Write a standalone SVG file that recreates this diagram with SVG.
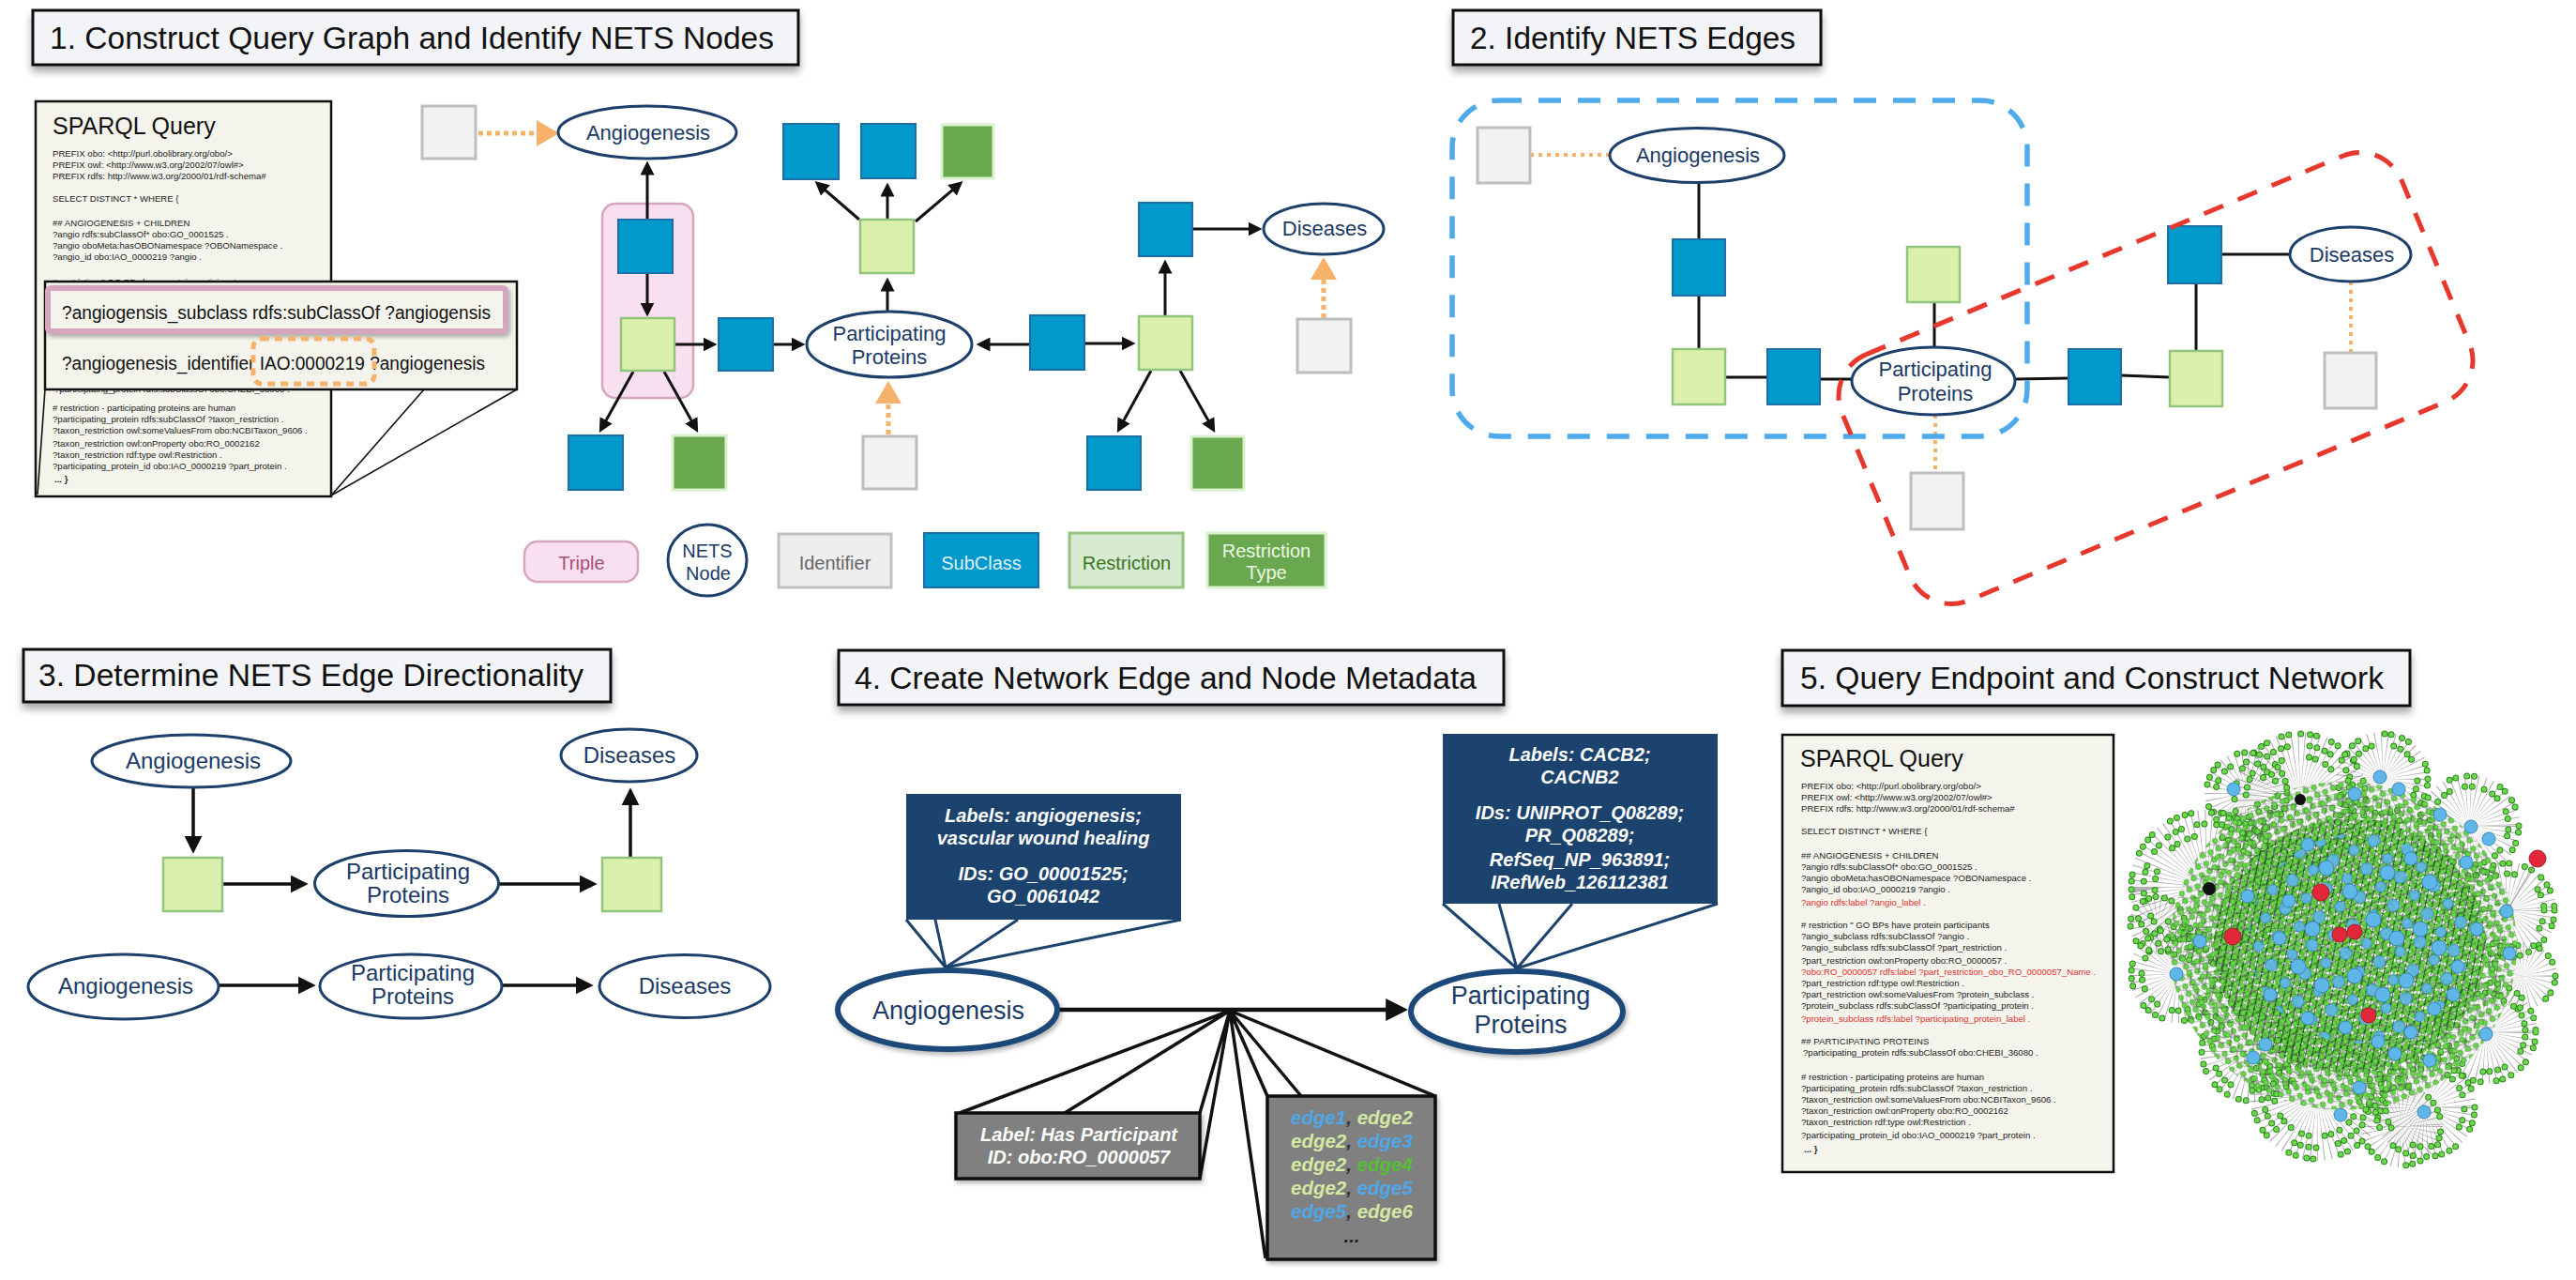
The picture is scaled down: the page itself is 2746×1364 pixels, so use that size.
<svg xmlns="http://www.w3.org/2000/svg" width="2746" height="1364" viewBox="0 0 2746 1364">
<defs>
<style>
text{font-family:"Liberation Sans",Arial,sans-serif}
.ttl{font-size:34px;fill:#111}
.tbox{fill:#f3f4f8;stroke:#111;stroke-width:3}
.ell{fill:#fff;stroke:#1d3f6c;stroke-width:3}
.et{fill:#1b3a66;font-size:22px;text-anchor:middle}
.et3{fill:#1b3a66;font-size:24px;text-anchor:middle}
.et4{fill:#1b3a66;font-size:27px;text-anchor:middle}
.sb{fill:#0099cc;stroke:#1e6ea6;stroke-width:2}
.rs{fill:#dcf0ae;stroke:#93c47d;stroke-width:2.5}
.rt{fill:#6aa84f;stroke:#dbf0cf;stroke-width:3}
.id{fill:#f2f2f2;stroke:#bebebe;stroke-width:3}
.ar{stroke:#111;stroke-width:3;fill:none;marker-end:url(#ah)}
.ar3{stroke:#111;stroke-width:3.5;fill:none;marker-end:url(#ah2)}
.ln{stroke:#111;stroke-width:3;fill:none}
.od{stroke:#f6b26b;stroke-width:5;stroke-dasharray:5 4;fill:none}
.od2{stroke:#f6b26b;stroke-width:4;stroke-dasharray:4 5;fill:none}
.code{font-size:9.6px;fill:#222}
.red{fill:#e3302c}
.sq{fill:#f4f4ec;stroke:#111;stroke-width:2.5}
.lg{font-size:20px;text-anchor:middle}
.wb{fill:#fff;font-size:20px;font-weight:bold;font-style:italic;text-anchor:middle}
.eb{font-size:20.5px;font-weight:bold;font-style:italic}
.cb{fill:#4fa7e8}.cg{fill:#d3e9a3}.cG{fill:#57bd35}.cc{fill:#333}
.nv{fill:#1c426e}
.pl{stroke:#1c426e;stroke-width:3;fill:none}
.jl{stroke:#111;stroke-width:3.5;fill:none}
.spk{fill:none;stroke:#6b6b6b;stroke-opacity:0.55;stroke-dasharray:0.6 3.4}
.k{fill:none;stroke:#2d861e;stroke-width:7;stroke-linecap:round}
.g{fill:none;stroke:#6bd94b;stroke-width:5;stroke-linecap:round}
.d1{stroke-dasharray:0 8 0 9 0 7 0 24}
.d2{stroke-dasharray:0 10 0 7 0 17 0 8 0 13}
.d3{stroke-dasharray:0 7 0 12 0 8 0 30}
.bn{fill:#5fb6e9;stroke:#3a86bd;stroke-width:1}
.rn{fill:#e0283a;stroke:#a81e2a;stroke-width:1}
</style>
<filter id="sh" x="-5%" y="-30%" width="110%" height="180%"><feDropShadow dx="0" dy="6" stdDeviation="4" flood-color="#000" flood-opacity="0.35"/></filter>
<filter id="sh2" x="-10%" y="-10%" width="120%" height="130%"><feDropShadow dx="2" dy="3" stdDeviation="2.5" flood-color="#000" flood-opacity="0.3"/></filter>
<marker id="ah" viewBox="0 0 10 10" refX="7" refY="5" markerWidth="15" markerHeight="15" markerUnits="userSpaceOnUse" orient="auto"><path d="M0,0 L10,5 L0,10 z" fill="#111"/></marker>
<marker id="ah2" viewBox="0 0 10 10" refX="7" refY="5" markerWidth="19" markerHeight="19" markerUnits="userSpaceOnUse" orient="auto"><path d="M0,0 L10,5 L0,10 z" fill="#111"/></marker>
<marker id="ah3" viewBox="0 0 10 10" refX="7" refY="5" markerWidth="24" markerHeight="24" markerUnits="userSpaceOnUse" orient="auto"><path d="M0,0 L10,5 L0,10 z" fill="#111"/></marker>
<marker id="oh" viewBox="0 0 24 28" refX="20" refY="14" markerWidth="24" markerHeight="28" markerUnits="userSpaceOnUse" orient="auto"><path d="M0,0 L24,14 L0,28 z" fill="#f6b26b"/></marker>
<pattern id="pg" width="13" height="13" patternUnits="userSpaceOnUse" patternTransform="rotate(21)">
<path d="M0,2 L13,11 M4,0 L8,13 M0,9 L13,5" stroke="#666" stroke-width="0.5"/>
<circle cx="3.5" cy="3.5" r="2.8" fill="#6ad64a" stroke="#2f8a20" stroke-width="0.6"/>
<circle cx="9.8" cy="9.6" r="2.8" fill="#6ad64a" stroke="#2f8a20" stroke-width="0.6"/>
</pattern>
<pattern id="pg2" width="17" height="19" patternUnits="userSpaceOnUse" patternTransform="rotate(67)">
<path d="M0,4 L17,15 M12,0 L5,19" stroke="#333" stroke-width="0.6"/>
<circle cx="5" cy="12" r="2.8" fill="#6ad64a" stroke="#2f8a20" stroke-width="0.6"/>
<circle cx="13" cy="5" r="2.8" fill="#6ad64a" stroke="#2f8a20" stroke-width="0.6"/>
</pattern>
<pattern id="pc" width="10" height="10" patternUnits="userSpaceOnUse" patternTransform="rotate(-33)">
<path d="M0,0 L10,10 M10,0 L0,10 M0,5 L10,5" stroke="#1a1a1a" stroke-width="0.8"/>
<circle cx="2.5" cy="2.5" r="2.7" fill="#6ad64a" stroke="#2f8a20" stroke-width="0.6"/>
<circle cx="7.5" cy="7.5" r="2.7" fill="#6ad64a" stroke="#2f8a20" stroke-width="0.6"/>
</pattern>
<pattern id="pb" width="37" height="31" patternUnits="userSpaceOnUse" patternTransform="rotate(14)">
<circle cx="8" cy="9" r="6.5" fill="#5fb6e9" stroke="#3a86bd" stroke-width="1"/>
<circle cx="27" cy="24" r="5.5" fill="#5fb6e9" stroke="#3a86bd" stroke-width="1"/>
</pattern>
</defs>
<rect width="2746" height="1364" fill="#fff"/>

<!-- ===== Titles ===== -->
<g id="title1"><rect class="tbox" x="35" y="11" width="816" height="58" filter="url(#sh)"/><text class="ttl" x="53" y="52" textLength="772" lengthAdjust="spacingAndGlyphs">1. Construct Query Graph and Identify NETS Nodes</text></g>
<g id="title2"><rect class="tbox" x="1549" y="11" width="392" height="58" filter="url(#sh)"/><text class="ttl" x="1567" y="52" textLength="347" lengthAdjust="spacingAndGlyphs">2. Identify NETS Edges</text></g>
<g id="title3"><rect class="tbox" x="25" y="692" width="626" height="56" filter="url(#sh)"/><text class="ttl" x="41" y="731" textLength="581" lengthAdjust="spacingAndGlyphs">3. Determine NETS Edge Directionality</text></g>
<g id="title4"><rect class="tbox" x="894" y="693" width="709" height="58" filter="url(#sh)"/><text class="ttl" x="911" y="734" textLength="663" lengthAdjust="spacingAndGlyphs">4. Create Network Edge and Node Metadata</text></g>
<g id="title5"><rect class="tbox" x="1900" y="693" width="669" height="59" filter="url(#sh)"/><text class="ttl" x="1919" y="734" textLength="622" lengthAdjust="spacingAndGlyphs">5. Query Endpoint and Construct Network</text></g>

<!-- ===== Panel 1: SPARQL ===== -->
<g id="p1-sparql">
<rect class="sq" x="38" y="108" width="315" height="421"/>
<text x="56" y="143" font-size="25" fill="#111">SPARQL Query</text>
<text class="code" x="56" y="167">PREFIX obo: &lt;http://purl.obolibrary.org/obo/&gt;</text>
<text class="code" x="56" y="179">PREFIX owl: &lt;http://www.w3.org/2002/07/owl#&gt;</text>
<text class="code" x="56" y="191">PREFIX rdfs: http://www.w3.org/2000/01/rdf-schema#</text>
<text class="code" x="56" y="215">SELECT DISTINCT * WHERE {</text>
<text class="code" x="56" y="241">## ANGIOGENESIS + CHILDREN</text>
<text class="code" x="56" y="253">?angio rdfs:subClassOf* obo:GO_0001525 .</text>
<text class="code" x="56" y="265">?angio oboMeta:hasOBONamespace ?OBONamespace .</text>
<text class="code" x="56" y="277">?angio_id obo:IAO_0000219 ?angio .</text>
<text class="code" x="56" y="304"># restriction " GO BPs have protein participants</text>
<text class="code" x="58" y="418">?participating_protein rdfs:subClassOf obo:CHEBI_36080 .</text>
<text class="code" x="56" y="438"># restriction - participating proteins are human</text>
<text class="code" x="56" y="450">?participating_protein rdfs:subClassOf ?taxon_restriction .</text>
<text class="code" x="56" y="462">?taxon_restriction owl:someValuesFrom obo:NCBITaxon_9606 .</text>
<text class="code" x="56" y="476">?taxon_restriction owl:onProperty obo:RO_0002162</text>
<text class="code" x="56" y="488">?taxon_restriction rdf:type owl:Restriction .</text>
<text class="code" x="56" y="500">?participating_protein_id obo:IAO_0000219 ?part_protein .</text>
<text class="code" x="58" y="514" font-weight="bold">... }</text>
<path d="M48,415 L40,527 M452,415 L353,528 M551,415 L353,528" stroke="#111" stroke-width="1.6" fill="none"/>
<rect class="sq" x="48" y="300" width="503" height="115" stroke-width="3"/>
<rect x="51" y="307" width="488" height="46" rx="3" fill="#f4f4ec" stroke="#d5a6bd" stroke-width="6" filter="url(#sh2)"/>
<text x="66" y="340" font-size="20" fill="#111" textLength="457" lengthAdjust="spacingAndGlyphs">?angiogensis_subclass rdfs:subClassOf ?angiogensis</text>
<text x="66" y="394" font-size="20" fill="#111" textLength="451" lengthAdjust="spacingAndGlyphs">?angiogenesis_identifier IAO:0000219 ?angiogenesis</text>
<rect x="270" y="361" width="129" height="48" rx="9" fill="none" stroke="#f6b26b" stroke-width="5" stroke-dasharray="8 6"/>
</g>

<!-- ===== Panel 1: graph ===== -->
<g id="p1-triple"><rect x="642" y="217" width="97" height="207" rx="14" fill="#f9e0f0" stroke="#d5a6bd" stroke-width="2.5"/></g>
<g id="p1-connectors">
<line class="od" x1="510" y1="142" x2="592" y2="142" marker-end="url(#oh)"/>
<line class="od" x1="947" y1="463" x2="947" y2="410" marker-end="url(#oh)"/>
<line class="od" x1="1411" y1="339" x2="1411" y2="278" marker-end="url(#oh)"/>
<line class="ar" x1="690" y1="234" x2="690" y2="176"/>
<line class="ar" x1="690" y1="291" x2="690" y2="333"/>
<line class="ar" x1="719" y1="367" x2="760" y2="367"/>
<line class="ar" x1="824" y1="367" x2="854" y2="367"/>
<line class="ar" x1="675" y1="396" x2="641" y2="457"/>
<line class="ar" x1="708" y1="396" x2="742" y2="457"/>
<line class="ar" x1="946" y1="332" x2="946" y2="300"/>
<line class="ar" x1="916" y1="234" x2="872" y2="196"/>
<line class="ar" x1="946" y1="234" x2="946" y2="199"/>
<line class="ar" x1="976" y1="236" x2="1023" y2="196"/>
<line class="ar" x1="1098" y1="367" x2="1045" y2="367"/>
<line class="ar" x1="1156" y1="366" x2="1206" y2="366"/>
<line class="ar" x1="1242" y1="337" x2="1242" y2="281"/>
<line class="ar" x1="1271" y1="244" x2="1341" y2="244"/>
<line class="ar" x1="1227" y1="395" x2="1193" y2="457"/>
<line class="ar" x1="1258" y1="395" x2="1293" y2="457"/>
</g>
<g id="p1-id1"><rect class="id" x="450" y="113" width="57" height="56"/></g>
<g id="p1-angio"><ellipse class="ell" cx="690" cy="141" rx="95" ry="28"/><text class="et" x="691" y="149">Angiogenesis</text></g>
<g id="p1-b1"><rect class="sb" x="659" y="234" width="58" height="57"/></g>
<g id="p1-g1"><rect class="rs" x="662" y="339" width="57" height="56"/></g>
<g id="p1-b2"><rect class="sb" x="766" y="339" width="58" height="56"/></g>
<g id="p1-b3"><rect class="sb" x="606" y="464" width="58" height="58"/></g>
<g id="p1-dg1"><rect class="rt" x="717" y="464" width="57" height="58"/></g>
<g id="p1-pp"><ellipse class="ell" cx="948" cy="367" rx="88" ry="35"/><text class="et" x="948" y="363">Participating</text><text class="et" x="948" y="388">Proteins</text></g>
<g id="p1-id2"><rect class="id" x="920" y="465" width="57" height="56"/></g>
<g id="p1-g2"><rect class="rs" x="917" y="234" width="57" height="57"/></g>
<g id="p1-b4"><rect class="sb" x="835" y="132" width="59" height="59"/></g>
<g id="p1-b5"><rect class="sb" x="918" y="132" width="58" height="58"/></g>
<g id="p1-dg2"><rect class="rt" x="1004" y="133" width="55" height="57"/></g>
<g id="p1-b6"><rect class="sb" x="1098" y="336" width="58" height="58"/></g>
<g id="p1-g3"><rect class="rs" x="1214" y="337" width="57" height="57"/></g>
<g id="p1-b7"><rect class="sb" x="1214" y="216" width="57" height="57"/></g>
<g id="p1-dis"><ellipse class="ell" cx="1411" cy="244" rx="64" ry="27"/><text class="et" x="1412" y="251">Diseases</text></g>
<g id="p1-id3"><rect class="id" x="1383" y="340" width="57" height="57"/></g>
<g id="p1-b8"><rect class="sb" x="1159" y="465" width="57" height="57"/></g>
<g id="p1-dg3"><rect class="rt" x="1270" y="465" width="56" height="57"/></g>

<!-- legend -->
<g id="legend">
<g id="lg-triple"><rect x="559" y="577" width="121" height="43" rx="14" fill="#f9e0f0" stroke="#d5a6bd" stroke-width="2.5"/><text class="lg" x="620" y="607" fill="#a64d79">Triple</text></g>
<g id="lg-nets"><ellipse class="ell" cx="754" cy="597" rx="42" ry="38"/><text class="lg" x="754" y="594" fill="#1b3a66">NETS</text><text class="lg" x="755" y="618" fill="#1b3a66">Node</text></g>
<g id="lg-id"><rect x="830" y="569" width="120" height="57" fill="#eeeeee" stroke="#c0c0c0" stroke-width="3"/><text class="lg" x="890" y="607" fill="#666">Identifier</text></g>
<g id="lg-sub"><rect class="sb" x="985" y="568" width="122" height="58"/><text class="lg" x="1046" y="607" fill="#dff0fa">SubClass</text></g>
<g id="lg-res"><rect x="1140" y="568" width="121" height="58" fill="#d9ead3" stroke="#93c47d" stroke-width="3"/><text class="lg" x="1201" y="607" fill="#38761d">Restriction</text></g>
<g id="lg-rt"><rect class="rt" x="1287" y="568" width="126" height="58"/><text class="lg" x="1350" y="594" fill="#eef7e6">Restriction</text><text class="lg" x="1350" y="617" fill="#eef7e6">Type</text></g>
</g>

<!-- ===== Panel 2 ===== -->
<g id="p2-connectors">
<line class="od2" x1="1631" y1="165" x2="1716" y2="165"/>
<line class="od2" x1="2063" y1="442" x2="2063" y2="504"/>
<line class="od2" x1="2506" y1="300" x2="2506" y2="376"/>
<line class="ln" x1="1811" y1="195" x2="1811" y2="255"/>
<line class="ln" x1="1811" y1="315" x2="1811" y2="372"/>
<line class="ln" x1="1839" y1="402" x2="1884" y2="402" stroke-width="4"/>
<line class="ln" x1="1940" y1="404" x2="1975" y2="404" stroke-width="4"/>
<line class="ln" x1="2062" y1="322" x2="2062" y2="370"/>
<line class="ln" x1="2148" y1="404" x2="2205" y2="403" stroke-width="4"/>
<line class="ln" x1="2261" y1="400" x2="2313" y2="402" stroke-width="4"/>
<line class="ln" x1="2341" y1="374" x2="2341" y2="302"/>
<line class="ln" x1="2368" y1="271" x2="2441" y2="271" stroke-width="4"/>
</g>
<g id="p2-id1"><rect class="id" x="1575" y="136" width="56" height="59"/></g>
<g id="p2-angio"><ellipse class="ell" cx="1809" cy="165.5" rx="93" ry="29"/><text class="et" x="1810" y="173">Angiogenesis</text></g>
<g id="p2-b1"><rect class="sb" x="1783" y="255" width="56" height="60"/></g>
<g id="p2-g1"><rect class="rs" x="1783" y="372" width="56" height="59"/></g>
<g id="p2-b2"><rect class="sb" x="1884" y="372" width="56" height="59"/></g>
<g id="p2-pp"><ellipse class="ell" cx="2061" cy="406" rx="87" ry="36"/><text class="et" x="2063" y="401">Participating</text><text class="et" x="2063" y="427">Proteins</text></g>
<g id="p2-g2"><rect class="rs" x="2033" y="263" width="56" height="59"/></g>
<g id="p2-id2"><rect class="id" x="2037" y="504" width="56" height="60"/></g>
<g id="p2-b3"><rect class="sb" x="2205" y="372" width="56" height="59"/></g>
<g id="p2-g3"><rect class="rs" x="2313" y="374" width="56" height="59"/></g>
<g id="p2-b4"><rect class="sb" x="2311" y="241" width="57" height="61"/></g>
<g id="p2-dis"><ellipse class="ell" cx="2505.5" cy="271" rx="64.5" ry="29"/><text class="et" x="2507" y="279">Diseases</text></g>
<g id="p2-id3"><rect class="id" x="2478" y="376" width="55" height="59"/></g>
<g id="p2-groups">
<rect x="1548" y="107" width="613" height="358" rx="50" fill="none" stroke="#4eaaea" stroke-width="5.5" stroke-dasharray="24 18"/>
<rect x="-323" y="-142" width="646" height="284" rx="48" transform="translate(2298,403) rotate(-22.6)" fill="none" stroke="#e8372c" stroke-width="5" stroke-dasharray="22 17"/>
</g>

<!-- ===== Panel 3 ===== -->
<g id="p3-connectors">
<line class="ar3" x1="206" y1="839" x2="206" y2="904"/>
<line class="ar3" x1="237" y1="942" x2="323" y2="942"/>
<line class="ar3" x1="532" y1="942" x2="631" y2="942"/>
<line class="ar3" x1="672" y1="914" x2="672" y2="845"/>
<line class="ar3" x1="233" y1="1050" x2="331" y2="1050"/>
<line class="ar3" x1="535" y1="1050" x2="627" y2="1050"/>
</g>
<g id="p3-angio"><ellipse class="ell" cx="204" cy="811" rx="106" ry="28"/><text class="et3" x="206" y="819">Angiogenesis</text></g>
<g id="p3-g1"><rect class="rs" x="174" y="914" width="63" height="57"/></g>
<g id="p3-pp"><ellipse class="ell" cx="433.5" cy="941.5" rx="98" ry="35"/><text class="et3" x="435" y="937">Participating</text><text class="et3" x="435" y="962">Proteins</text></g>
<g id="p3-g2"><rect class="rs" x="642" y="914" width="63" height="57"/></g>
<g id="p3-dis"><ellipse class="ell" cx="670.5" cy="805" rx="72.5" ry="28"/><text class="et3" x="671" y="813">Diseases</text></g>
<g id="p3-angio2"><ellipse class="ell" cx="131.5" cy="1051.5" rx="101.5" ry="34.5"/><text class="et3" x="134" y="1059">Angiogenesis</text></g>
<g id="p3-pp2"><ellipse class="ell" cx="438" cy="1051" rx="97" ry="34"/><text class="et3" x="440" y="1045">Participating</text><text class="et3" x="440" y="1070">Proteins</text></g>
<g id="p3-dis2"><ellipse class="ell" cx="730" cy="1051" rx="91" ry="33.5"/><text class="et3" x="730" y="1059">Diseases</text></g>

<!-- ===== Panel 4 ===== -->
<g id="p4-connectors">
<path class="pl" d="M966,980 L1008,1031 L997,980 M1085,980 L1008,1031 L1259,980"/>
<path class="pl" d="M1538,963 L1617,1032 L1598,963 M1676,963 L1617,1032 L1831,963"/>
<line x1="1127" y1="1076" x2="1494" y2="1076" stroke="#111" stroke-width="4.5" marker-end="url(#ah3)"/>
<path class="jl" d="M1023,1186 L1311,1077 L1135,1186 M1279,1186 L1311,1077 L1279,1256"/>
<path class="jl" d="M1351,1168 L1311,1077 L1387,1168 M1530,1168 L1311,1077 L1349,1341"/>
</g>
<g id="p4-angio"><ellipse cx="1010" cy="1076" rx="117" ry="42" fill="#fff" stroke="#1f4a7a" stroke-width="6" filter="url(#sh2)"/><text class="et4" x="1011" y="1086">Angiogenesis</text></g>
<g id="p4-pp"><ellipse cx="1617" cy="1078" rx="113" ry="43" fill="#fff" stroke="#1f4a7a" stroke-width="6" filter="url(#sh2)"/><text class="et4" x="1621" y="1070">Participating</text><text class="et4" x="1621" y="1101">Proteins</text></g>
<g id="p4-angio-meta"><rect class="nv" x="966" y="846" width="293" height="134"/>
<text class="wb" x="1112" y="876">Labels: angiogenesis;</text>
<text class="wb" x="1112" y="900">vascular wound healing</text>
<text class="wb" x="1112" y="938">IDs: GO_00001525;</text>
<text class="wb" x="1112" y="962">GO_0061042</text></g>
<g id="p4-pp-meta"><rect class="nv" x="1538" y="782" width="293" height="181"/>
<text class="wb" x="1684" y="811">Labels: CACB2;</text>
<text class="wb" x="1684" y="835">CACNB2</text>
<text class="wb" x="1684" y="873">IDs: UNIPROT_Q08289;</text>
<text class="wb" x="1684" y="897">PR_Q08289;</text>
<text class="wb" x="1684" y="923">RefSeq_NP_963891;</text>
<text class="wb" x="1684" y="947">IRefWeb_126112381</text></g>
<g id="p4-edge-meta"><rect x="1019" y="1186" width="260" height="70" fill="#808080" stroke="#111" stroke-width="3.5" filter="url(#sh2)"/>
<text class="wb" x="1150" y="1216">Label: Has Participant</text>
<text class="wb" x="1150" y="1240">ID: obo:RO_0000057</text></g>
<g id="p4-edges"><rect x="1351" y="1168" width="179" height="174" fill="#808080" stroke="#111" stroke-width="3.5" filter="url(#sh2)"/>
<text class="eb" x="1376" y="1198"><tspan class="cb">edge1</tspan><tspan class="cc">, </tspan><tspan class="cg">edge2</tspan></text>
<text class="eb" x="1376" y="1223"><tspan class="cg">edge2</tspan><tspan class="cc">, </tspan><tspan class="cb">edge3</tspan></text>
<text class="eb" x="1376" y="1248"><tspan class="cg">edge2</tspan><tspan class="cc">, </tspan><tspan class="cG">edge4</tspan></text>
<text class="eb" x="1376" y="1273"><tspan class="cg">edge2</tspan><tspan class="cc">, </tspan><tspan class="cb">edge5</tspan></text>
<text class="eb" x="1376" y="1298"><tspan class="cb">edge5</tspan><tspan class="cc">, </tspan><tspan class="cg">edge6</tspan></text>
<text class="eb" x="1441" y="1324" fill="#222" text-anchor="middle">...</text></g>

<!-- ===== Panel 5 ===== -->
<g id="p5-sparql">
<rect class="sq" x="1900" y="783" width="353" height="466"/>
<text x="1919" y="817" font-size="25" fill="#111">SPARQL Query</text>
<text class="code" x="1920" y="841">PREFIX obo: &lt;http://purl.obolibrary.org/obo/&gt;</text>
<text class="code" x="1920" y="853">PREFIX owl: &lt;http://www.w3.org/2002/07/owl#&gt;</text>
<text class="code" x="1920" y="865">PREFIX rdfs: http://www.w3.org/2000/01/rdf-schema#</text>
<text class="code" x="1920" y="889">SELECT DISTINCT * WHERE {</text>
<text class="code" x="1920" y="915">## ANGIOGENESIS + CHILDREN</text>
<text class="code" x="1920" y="927">?angio rdfs:subClassOf* obo:GO_0001525 .</text>
<text class="code" x="1920" y="939">?angio oboMeta:hasOBONamespace ?OBONamespace .</text>
<text class="code" x="1920" y="951">?angio_id obo:IAO_0000219 ?angio .</text>
<text class="code red" x="1920" y="965">?angio rdfs:label ?angio_label .</text>
<text class="code" x="1920" y="989"># restriction " GO BPs have protein participants</text>
<text class="code" x="1920" y="1001">?angio_subclass rdfs:subClassOf ?angio .</text>
<text class="code" x="1920" y="1013">?angio_subclass rdfs:subClassOf ?part_restriction .</text>
<text class="code" x="1920" y="1027">?part_restriction owl:onProperty obo:RO_0000057 .</text>
<text class="code red" x="1920" y="1039">?obo:RO_0000057 rdfs:label ?part_restriction_obo_RO_0000057_Name .</text>
<text class="code" x="1920" y="1051">?part_restriction rdf:type owl:Restriction .</text>
<text class="code" x="1920" y="1063">?part_restriction owl:someValuesFrom ?protein_subclass .</text>
<text class="code" x="1920" y="1075">?protein_subclass rdfs:subClassOf ?participating_protein .</text>
<text class="code red" x="1920" y="1089">?protein_subclass rdfs:label ?participating_protein_label .</text>
<text class="code" x="1920" y="1113">## PARTICIPATING PROTEINS</text>
<text class="code" x="1922" y="1125">?participating_protein rdfs:subClassOf obo:CHEBI_36080 .</text>
<text class="code" x="1920" y="1151"># restriction - participating proteins are human</text>
<text class="code" x="1920" y="1163">?participating_protein rdfs:subClassOf ?taxon_restriction .</text>
<text class="code" x="1920" y="1175">?taxon_restriction owl:someValuesFrom obo:NCBITaxon_9606 .</text>
<text class="code" x="1920" y="1187">?taxon_restriction owl:onProperty obo:RO_0002162</text>
<text class="code" x="1920" y="1199">?taxon_restriction rdf:type owl:Restriction .</text>
<text class="code" x="1920" y="1213">?participating_protein_id obo:IAO_0000219 ?part_protein .</text>
<text class="code" x="1923" y="1228" font-weight="bold">... }</text>
</g>

<g id="p5-network">
<g id="fans">
<circle class="spk" cx="2352" cy="945" r="41" stroke-width="82"/>
<circle class="spk" cx="2452" cy="852" r="36" stroke-width="72"/>
<circle class="spk" cx="2540" cy="830" r="25" stroke-width="50"/>
<circle class="spk" cx="2322" cy="1038" r="26" stroke-width="52"/>
<circle class="spk" cx="2673" cy="970" r="26" stroke-width="52"/>
<circle class="spk" cx="2470" cy="1165" r="36" stroke-width="72"/>
<circle class="spk" cx="2585" cy="1180" r="27" stroke-width="55"/>
<circle class="spk" cx="2650" cy="1100" r="27" stroke-width="55"/>
<circle class="spk" cx="2632" cy="880" r="27" stroke-width="55"/>
<circle class="spk" cx="2395" cy="845" r="22" stroke-width="45"/>
<circle class="spk" cx="2400" cy="1120" r="27" stroke-width="55"/>
<circle class="spk" cx="2690" cy="1040" r="18" stroke-width="35"/>
<circle class="spk" cx="2560" cy="1200" r="22" stroke-width="44"/>
<circle class="spk" cx="2300" cy="985" r="15" stroke-width="30"/>

<circle class="k d1" cx="2352" cy="945" r="80"/><circle class="g d1" cx="2352" cy="945" r="80"/>
<circle class="k d2" cx="2352" cy="945" r="67" stroke-dashoffset="4"/><circle class="g d2" cx="2352" cy="945" r="67" stroke-dashoffset="4"/>
<circle class="k d3" cx="2352" cy="945" r="55" stroke-dashoffset="9"/><circle class="g d3" cx="2352" cy="945" r="55" stroke-dashoffset="9"/>
<circle class="k d2" cx="2452" cy="852" r="70"/><circle class="g d2" cx="2452" cy="852" r="70"/>
<circle class="k d1" cx="2452" cy="852" r="58" stroke-dashoffset="5"/><circle class="g d1" cx="2452" cy="852" r="58" stroke-dashoffset="5"/>
<circle class="k d3" cx="2452" cy="852" r="46" stroke-dashoffset="2"/><circle class="g d3" cx="2452" cy="852" r="46" stroke-dashoffset="2"/>
<circle class="k d3" cx="2540" cy="830" r="48"/><circle class="g d3" cx="2540" cy="830" r="48"/>
<circle class="k d1" cx="2540" cy="830" r="37" stroke-dashoffset="6"/><circle class="g d1" cx="2540" cy="830" r="37" stroke-dashoffset="6"/>
<circle class="k d1" cx="2322" cy="1038" r="50"/><circle class="g d1" cx="2322" cy="1038" r="50"/>
<circle class="k d2" cx="2322" cy="1038" r="39" stroke-dashoffset="4"/><circle class="g d2" cx="2322" cy="1038" r="39" stroke-dashoffset="4"/>
<circle class="k d2" cx="2673" cy="970" r="50"/><circle class="g d2" cx="2673" cy="970" r="50"/>
<circle class="k d3" cx="2673" cy="970" r="39" stroke-dashoffset="7"/><circle class="g d3" cx="2673" cy="970" r="39" stroke-dashoffset="7"/>
<circle class="k d3" cx="2470" cy="1165" r="70"/><circle class="g d3" cx="2470" cy="1165" r="70"/>
<circle class="k d1" cx="2470" cy="1165" r="58" stroke-dashoffset="4"/><circle class="g d1" cx="2470" cy="1165" r="58" stroke-dashoffset="4"/>
<circle class="k d2" cx="2470" cy="1165" r="46" stroke-dashoffset="8"/><circle class="g d2" cx="2470" cy="1165" r="46" stroke-dashoffset="8"/>
<circle class="k d1" cx="2585" cy="1180" r="53"/><circle class="g d1" cx="2585" cy="1180" r="53"/>
<circle class="k d3" cx="2585" cy="1180" r="42" stroke-dashoffset="5"/><circle class="g d3" cx="2585" cy="1180" r="42" stroke-dashoffset="5"/>
<circle class="k d2" cx="2650" cy="1100" r="53"/><circle class="g d2" cx="2650" cy="1100" r="53"/>
<circle class="k d1" cx="2650" cy="1100" r="42" stroke-dashoffset="3"/><circle class="g d1" cx="2650" cy="1100" r="42" stroke-dashoffset="3"/>
<circle class="k d3" cx="2632" cy="880" r="53"/><circle class="g d3" cx="2632" cy="880" r="53"/>
<circle class="k d2" cx="2632" cy="880" r="42" stroke-dashoffset="6"/><circle class="g d2" cx="2632" cy="880" r="42" stroke-dashoffset="6"/>
<circle class="k d1" cx="2395" cy="845" r="43"/><circle class="g d1" cx="2395" cy="845" r="43"/>
<circle class="k d3" cx="2395" cy="845" r="33" stroke-dashoffset="4"/><circle class="g d3" cx="2395" cy="845" r="33" stroke-dashoffset="4"/>
<circle class="k d2" cx="2400" cy="1120" r="53"/><circle class="g d2" cx="2400" cy="1120" r="53"/>
<circle class="k d1" cx="2400" cy="1120" r="42" stroke-dashoffset="7"/><circle class="g d1" cx="2400" cy="1120" r="42" stroke-dashoffset="7"/>
<circle class="k d3" cx="2690" cy="1040" r="34"/><circle class="g d3" cx="2690" cy="1040" r="34"/>
<circle class="k d1" cx="2560" cy="1200" r="42" stroke-dashoffset="11"/><circle class="g d1" cx="2560" cy="1200" r="42" stroke-dashoffset="11"/>
<circle class="k d2" cx="2300" cy="985" r="29"/><circle class="g d2" cx="2300" cy="985" r="29"/>
</g>
<ellipse cx="2498" cy="1008" rx="185" ry="175" fill="url(#pg)"/>
<ellipse cx="2500" cy="1008" rx="172" ry="162" fill="url(#pg2)"/>
<ellipse cx="2505" cy="1008" rx="145" ry="135" fill="url(#pc)"/>
<ellipse cx="2515" cy="1000" rx="118" ry="112" fill="url(#pb)" opacity="0.9"/>
<circle cx="2355" cy="947" r="7" fill="#111"/>
<circle cx="2452" cy="852" r="6" fill="#111"/>
<line x1="2673" y1="970" x2="2705" y2="915" stroke="#777" stroke-width="0.8"/>
<g id="blue-nodes">
<circle class="bn" cx="2381" cy="841" r="7"/><circle class="bn" cx="2510" cy="846" r="7"/><circle class="bn" cx="2537" cy="828" r="7"/><circle class="bn" cx="2557" cy="841" r="7"/>
<circle class="bn" cx="2601" cy="868" r="7"/><circle class="bn" cx="2634" cy="881" r="7"/><circle class="bn" cx="2653" cy="894" r="7"/><circle class="bn" cx="2629" cy="919" r="7"/>
<circle class="bn" cx="2396" cy="955" r="7"/><circle class="bn" cx="2345" cy="1003" r="7"/><circle class="bn" cx="2320" cy="1038" r="7"/><circle class="bn" cx="2675" cy="1016" r="7"/>
<circle class="bn" cx="2672" cy="971" r="7"/><circle class="bn" cx="2650" cy="1102" r="7"/><circle class="bn" cx="2584" cy="1185" r="7"/><circle class="bn" cx="2495" cy="1188" r="7"/>
<circle class="bn" cx="2515" cy="1159" r="7"/><circle class="bn" cx="2415" cy="1113" r="7"/><circle class="bn" cx="2402" cy="1127" r="7"/><circle class="bn" cx="2553" cy="1123" r="7"/>
<circle class="bn" cx="2615" cy="1060" r="7"/><circle class="bn" cx="2460" cy="900" r="7"/><circle class="bn" cx="2480" cy="925" r="8"/><circle class="bn" cx="2545" cy="930" r="8"/>
<circle class="bn" cx="2570" cy="915" r="7"/><circle class="bn" cx="2590" cy="940" r="8"/><circle class="bn" cx="2440" cy="960" r="7"/><circle class="bn" cx="2465" cy="990" r="8"/>
<circle class="bn" cx="2530" cy="980" r="8"/><circle class="bn" cx="2555" cy="1000" r="8"/><circle class="bn" cx="2580" cy="990" r="8"/><circle class="bn" cx="2600" cy="1010" r="8"/>
<circle class="bn" cx="2450" cy="1030" r="8"/><circle class="bn" cx="2475" cy="1050" r="8"/><circle class="bn" cx="2510" cy="1040" r="8"/><circle class="bn" cx="2540" cy="1060" r="8"/>
<circle class="bn" cx="2565" cy="1045" r="8"/><circle class="bn" cx="2595" cy="1075" r="7"/><circle class="bn" cx="2430" cy="1000" r="7"/><circle class="bn" cx="2420" cy="1060" r="7"/>
<circle class="bn" cx="2460" cy="1085" r="7"/><circle class="bn" cx="2500" cy="1095" r="7"/><circle class="bn" cx="2535" cy="1110" r="7"/><circle class="bn" cx="2570" cy="1100" r="7"/>
<circle class="bn" cx="2620" cy="1030" r="7"/><circle class="bn" cx="2640" cy="990" r="7"/><circle class="bn" cx="2505" cy="950" r="8"/><circle class="bn" cx="2590" cy="1130" r="7"/>
</g>
<g id="red-nodes">
<circle class="rn" cx="2474" cy="951" r="9"/><circle class="rn" cx="2380" cy="998" r="9"/><circle class="rn" cx="2494" cy="996" r="8"/>
<circle class="rn" cx="2510" cy="993" r="8"/><circle class="rn" cx="2525" cy="1082" r="8"/><circle class="rn" cx="2705" cy="915" r="9"/>
</g>
</g>
</svg>
